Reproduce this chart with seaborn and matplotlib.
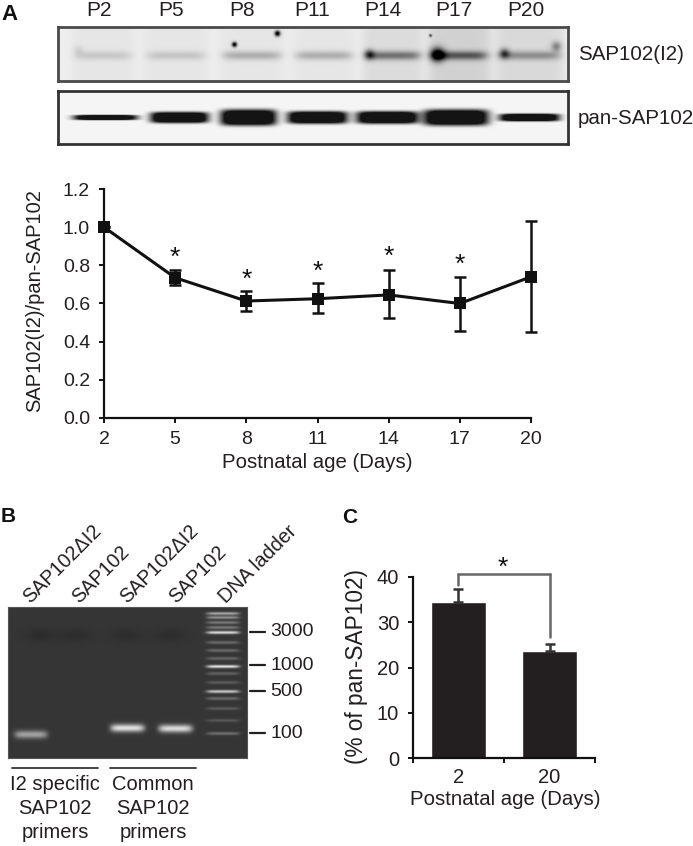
"""
Developmental SAP102(I2) figure: blots, quantification, RT-PCR gel and bar chart
"""

import numpy as np
import pandas as pd
import matplotlib

matplotlib.use("Agg")
import matplotlib.pyplot as plt
from matplotlib.lines import Line2D
import seaborn as sns

W, H = 693, 846
INK = "#231f20"

sns.set_theme(style="ticks")
plt.rcParams["font.family"] = ["Liberation Sans", "DejaVu Sans"]
plt.rcParams["text.color"] = INK
plt.rcParams["axes.labelcolor"] = INK
plt.rcParams["xtick.labelcolor"] = INK
plt.rcParams["ytick.labelcolor"] = INK

# panel A, blots
lane_labels = ["P2", "P5", "P8", "P11", "P14", "P17", "P20"]
i2_strength = [0.12, 0.13, 0.22, 0.22, 0.42, 0.50, 0.30]
i2_background = [0.03, 0.03, 0.03, 0.03, 0.07, 0.11, 0.08]
pan_strength = [0.95, 1.0, 1.0, 1.0, 1.0, 1.0, 1.0]
pan_thickness = [2.6, 5.5, 8.0, 6.2, 6.2, 8.0, 3.8]

# panel A, quantification
age_days = [2, 5, 8, 11, 14, 17, 20]
i2_ratio = [1.0, 0.735, 0.613, 0.625, 0.645, 0.60, 0.74]
i2_upper = [1.0, 0.775, 0.668, 0.708, 0.775, 0.74, 1.03]
i2_lower = [1.0, 0.695, 0.56, 0.55, 0.525, 0.458, 0.45]
star_ages = [5, 8, 11, 14, 17]
star_levels = [0.84, 0.725, 0.765, 0.845, 0.80]

# panel B, gel
gel_lanes = ["SAP102\u0394I2", "SAP102", "SAP102\u0394I2", "SAP102", "DNA ladder"]
gel_band_strength = [0.42, 0.0, 0.66, 0.64]
ladder_sizes = ["3000", "1000", "500", "100"]
ladder_strength = [0.42, 0.34, 0.26, 0.26, 0.62, 0.2, 0.2, 0.18, 0.65, 0.17,
                   0.15, 0.55, 0.2, 0.14, 0.13, 0.22]

# panel C
bar_ages = ["2", "20"]
bar_percent = [34.5, 23.6]
bar_upper = [37.3, 25.3]


def px_axes(x0, y0, x1, y1):
    return fig.add_axes([x0 / W, 1 - y1 / H, (x1 - x0) / W, (y1 - y0) / H])


def px_text(x, y, s, **kwargs):
    kwargs.setdefault("ha", "center")
    kwargs.setdefault("va", "center")
    fig.text(x / W, 1 - y / H, s, **kwargs)


def px_line(x0, y0, x1, y1, **kwargs):
    fig.add_artist(
        Line2D([x0 / W, x1 / W], [1 - y0 / H, 1 - y1 / H], transform=fig.transFigure, **kwargs)
    )


def band(xx, yy, x0, x1, yc, thick, sharp=2):
    # flat-topped in x, soft in y
    xc, half = (x0 + x1) / 2, (x1 - x0) / 2
    return np.exp(-(((xx - xc) / half) ** 6)) * np.exp(-(np.abs((yy - yc) / thick) ** sharp))


def spot(xx, yy, xc, yc, r):
    return np.exp(-(((xx - xc) ** 2 + (yy - yc) ** 2) / r**2))


def blot_panel(box, img, cmap="gray", border="#4a4a4a", lw=2.0):
    ax = px_axes(*box)
    sns.heatmap(img, ax=ax, cmap=cmap, vmin=0, vmax=1, cbar=False, xticklabels=False,
                yticklabels=False, rasterized=True)
    for side in ax.spines.values():
        side.set_visible(True)
        side.set_color(border)
        side.set_linewidth(lw)
    return ax


fig = plt.figure(figsize=(W / 100, H / 100), dpi=100)

# ---- blots
i2_lanes = [(75, 131), (146, 205), (222, 281), (295, 352), (365, 420), (431, 487), (498, 560)]
pan_lanes = [(73, 137), (150, 208), (220, 276), (287, 347), (356, 418), (423, 488), (499, 559)]

xx, yy = np.meshgrid(np.arange(58, 568), np.arange(27, 81))
dark = np.full(xx.shape, 0.07)
for (x0, x1), s, bg in zip(i2_lanes, i2_strength, i2_background):
    dark += bg * np.exp(-(((xx - (x0 + x1) / 2) / ((x1 - x0) / 2 + 4)) ** 8))
    dark += s * band(xx, yy, x0, x1, 55, 4.5)
dark += 0.08 * spot(xx, yy, 78, 50, 5)
dark += 0.5 * spot(xx, yy, 369, 54, 5) + 0.85 * spot(xx, yy, 437, 54, 7)
dark += 0.5 * spot(xx, yy, 504, 53, 5) + 0.35 * spot(xx, yy, 556, 46, 5)
dark += spot(xx, yy, 277, 33, 2.8) + spot(xx, yy, 234, 44, 2.5)
dark += 0.6 * spot(xx, yy, 430, 35, 1.5)
blot_panel((58, 27, 568, 81), 1 - np.clip(dark, 0, 1))

xx, yy = np.meshgrid(np.arange(58, 568), np.arange(91, 144))
dark = np.full(xx.shape, 0.04)
for (x0, x1), s, t in zip(pan_lanes, pan_strength, pan_thickness):
    dark += 1.3 * s * band(xx, yy, x0, x1, 117, t, sharp=4)
blot_panel((58, 91, 568, 144), 1 - np.clip(dark, 0, 0.92), border="#333333")

for x, lab in zip([99, 171, 242, 312, 383, 454, 526], lane_labels):
    px_text(x, 11, lab, fontsize=15)
px_text(578, 55, "SAP102(I2)", ha="left", fontsize=14.8)
px_text(578, 118, "pan-SAP102", ha="left", fontsize=14.8)
px_text(10, 15, "A", fontsize=16, fontweight="bold", color="#111111")
px_text(8, 516, "B", fontsize=15, fontweight="bold", color="#111111")
px_text(350, 517, "C", fontsize=15, fontweight="bold", color="#111111")

# ---- line chart
ax = px_axes(104, 189, 531, 418)
quant = pd.DataFrame({"age": age_days, "ratio": i2_ratio})
sns.lineplot(data=quant, x="age", y="ratio", ax=ax, color="#111111", lw=2.2, marker="s",
             markersize=8, markeredgewidth=0, errorbar=None, clip_on=False, zorder=3)
ax.errorbar(
    age_days,
    i2_ratio,
    yerr=[np.array(i2_ratio) - np.array(i2_lower), np.array(i2_upper) - np.array(i2_ratio)],
    fmt="none",
    ecolor="#111111",
    elinewidth=1.8,
    capsize=4,
    capthick=1.8,
    clip_on=False,
)
for a, lev in zip(star_ages, star_levels):
    ax.text(a, lev, "*", ha="center", va="center", fontsize=19, color="#111111")
ax.set_xlim(2, 20)
ax.set_ylim(0, 1.2)
ax.set_xticks(age_days)
ax.set_yticks(np.arange(0, 1.21, 0.2))
ax.set_yticklabels([f"{v:.1f}" for v in np.arange(0, 1.21, 0.2)])
ax.tick_params(labelsize=14, length=3.5, width=1.4, color="#111111")
ax.tick_params(axis="x", pad=5.5)
ax.tick_params(axis="y", pad=6.5)
ax.set_xlabel("")
ax.set_ylabel("")
sns.despine(ax=ax)
for s in ["left", "bottom"]:
    ax.spines[s].set_linewidth(1.6)
    ax.spines[s].set_color("#111111")
px_text(317, 463, "Postnatal age (Days)", fontsize=14.7)
px_text(35, 301, "SAP102(I2)/pan-SAP102", rotation=90, fontsize=14.5)

# ---- gel
xx, yy = np.meshgrid(np.arange(8, 247), np.arange(607, 758))
glow = np.full(xx.shape, 0.21)
for xc in [40, 75, 125, 170]:
    glow -= 0.035 * np.exp(-(((xx - xc) / 16) ** 2) - ((yy - 635) / 7) ** 2)
gel_bands = [(14, 47, 734), (14, 47, 734), (110, 144, 727.5), (158, 192, 728)]
for (x0, x1, yc), s in zip(gel_bands, gel_band_strength):
    glow += s * band(xx, yy, x0, x1, yc, 4.0)
ladder_rows = [613, 617, 622, 627, 632, 642, 650, 658, 666, 673, 682, 691, 698, 708, 720, 733]
for yc, s in zip(ladder_rows, ladder_strength):
    glow += s * band(xx, yy, 206, 239, yc, 1.6)
ax = blot_panel((8, 607, 247, 758), np.clip(glow, 0, 1), border="#555555", lw=0.8)

for x, lab in zip([26, 75, 123, 172, 222], gel_lanes):
    px_text(x, 600, lab, rotation=45, rotation_mode="anchor", ha="left", va="center", fontsize=14.2)
for y, lab in zip([632, 665, 691, 733], ladder_sizes):
    px_line(250, y, 265, y, color=INK, lw=1.6)
    px_text(270, y, lab, ha="left", fontsize=14)
px_line(12, 768, 98, 768, color="#444444", lw=1.4)
px_line(110, 768, 196, 768, color="#444444", lw=1.4)
for y, a, b in zip([784, 808, 832], ["I2 specific", "SAP102", "primers"], ["Common", "SAP102", "primers"]):
    px_text(55, y, a, fontsize=14.5)
    px_text(153, y, b, fontsize=14.5)

# ---- bar chart
ax = px_axes(413, 577, 595, 758)
bars = pd.DataFrame({"age": bar_ages, "percent": bar_percent})
sns.barplot(data=bars, x="age", y="percent", ax=ax, color="#231f20", saturation=1, width=0.6,
            errorbar=None)
ax.errorbar(
    [0, 1],
    bar_percent,
    yerr=[[0, 0], np.array(bar_upper) - np.array(bar_percent)],
    fmt="none",
    ecolor="#333333",
    elinewidth=1.8,
    capsize=3.5,
    capthick=1.8,
)
ax.set_xlim(-0.5, 1.5)
ax.set_ylim(0, 40)
ax.set_xticks([-0.5, 0.5, 1.5])
ax.set_xticklabels([])
ax.set_yticks([0, 10, 20, 30, 40])
ax.tick_params(labelsize=14.5, length=3.5, width=1.4, pad=6.5, color="#111111")
ax.set_xlabel("")
ax.set_ylabel("")
sns.despine(ax=ax)
for s in ["left", "bottom"]:
    ax.spines[s].set_linewidth(1.6)
    ax.spines[s].set_color("#111111")
for i, lab in enumerate(bar_ages):
    ax.annotate(lab, (i, 0), xytext=(0, -19), xycoords="data", textcoords="offset pixels",
                ha="center", va="center", fontsize=14.5)
px_text(505, 799, "Postnatal age (Days)", fontsize=14.7)
px_text(357, 667, "(% of pan-SAP102)", rotation=90, fontsize=16.3)

# significance bracket
px_line(458, 585, 458, 574, color="#666666", lw=1.8)
px_line(458, 574, 550, 574, color="#666666", lw=1.8)
px_line(550, 574, 550, 637, color="#666666", lw=1.8)
px_text(503, 568, "*", fontsize=19, color="#111111")

fig.savefig("out.png", dpi=100, facecolor="white")
